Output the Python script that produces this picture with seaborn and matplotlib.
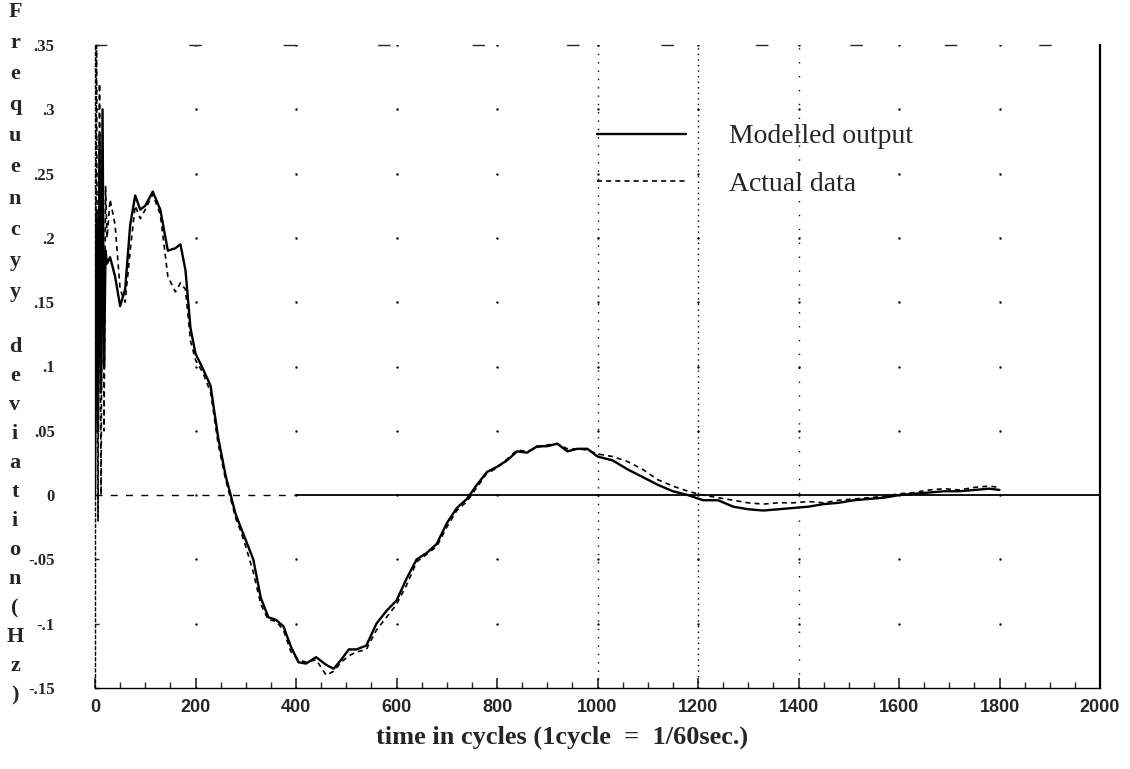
import numpy as np
import pandas as pd
import matplotlib
matplotlib.use("Agg")
import matplotlib.pyplot as plt
from matplotlib.ticker import MultipleLocator, FixedLocator, FixedFormatter
import seaborn as sns

# ---------------- data ----------------
time_cycles = [0, 3, 6, 9, 12, 15, 18, 21, 24, 30, 40, 50, 60, 70, 80, 90, 100, 115, 130, 145,
               160, 170, 180, 190, 200, 215, 230, 245, 260, 270, 280, 290, 300, 315, 330, 345,
               360, 375, 390, 405, 420, 440, 460, 475, 490, 505, 520, 540, 560, 580, 600, 620,
               640, 660, 680, 700, 720, 740, 760, 780, 800, 820, 840, 860, 880, 900, 920, 940,
               960, 980, 1000, 1030, 1060, 1090, 1120, 1150, 1180, 1210, 1240, 1270, 1300, 1330,
               1360, 1390, 1420, 1450, 1480, 1510, 1540, 1570, 1600, 1630, 1660, 1690, 1720,
               1750, 1780, 1800]

modelled_output = [0.0, 0.22, 0.05, 0.28, 0.08, 0.30, 0.10, 0.19, 0.18, 0.185, 0.17, 0.147, 0.16,
                   0.21, 0.233, 0.222, 0.225, 0.236, 0.222, 0.19, 0.192, 0.195, 0.175, 0.13, 0.11,
                   0.098, 0.085, 0.045, 0.015, 0.0, -0.015, -0.025, -0.035, -0.05, -0.08, -0.095,
                   -0.097, -0.102, -0.118, -0.13, -0.131, -0.126, -0.132, -0.135, -0.128, -0.12,
                   -0.12, -0.117, -0.1, -0.09, -0.082, -0.065, -0.05, -0.045, -0.038, -0.022,
                   -0.01, -0.003, 0.008, 0.018, 0.022, 0.027, 0.034, 0.033, 0.038, 0.038, 0.04,
                   0.034, 0.036, 0.036, 0.03, 0.027, 0.02, 0.014, 0.008, 0.003, 0.0, -0.004,
                   -0.004, -0.009, -0.011, -0.012, -0.011, -0.01, -0.009, -0.007, -0.006, -0.004,
                   -0.003, -0.002, 0.0, 0.001, 0.002, 0.003, 0.003, 0.004, 0.005, 0.004]

actual_data = [0.0, 0.35, -0.02, 0.32, 0.0, 0.27, 0.05, 0.24, 0.2, 0.23, 0.21, 0.16, 0.15,
               0.19, 0.225, 0.215, 0.222, 0.234, 0.218, 0.17, 0.158, 0.165, 0.16, 0.12, 0.105,
               0.095, 0.08, 0.04, 0.012, -0.003, -0.018, -0.028, -0.04, -0.06, -0.085, -0.097,
               -0.098, -0.105, -0.122, -0.128, -0.13, -0.128, -0.14, -0.137, -0.13, -0.125,
               -0.122, -0.12, -0.105, -0.095, -0.085, -0.07, -0.052, -0.046, -0.04, -0.025,
               -0.012, -0.005, 0.006, 0.017, 0.021, 0.028, 0.035, 0.034, 0.037, 0.039, 0.04,
               0.036, 0.036, 0.035, 0.032, 0.03, 0.026, 0.02, 0.012, 0.007, 0.003, 0.0,
               -0.002, -0.004, -0.006, -0.007, -0.006, -0.006, -0.005, -0.006, -0.004, -0.003,
               -0.002, -0.001, 0.001, 0.002, 0.004, 0.005, 0.004, 0.006, 0.007, 0.006]

x_ticks = [0, 200, 400, 600, 800, 1000, 1200, 1400, 1600, 1800, 2000]
y_ticks = [0.35, 0.3, 0.25, 0.2, 0.15, 0.1, 0.05, 0.0, -0.05, -0.1, -0.15]
y_tick_labels = [".35", ".3", ".25", ".2", ".15", ".1", ".05", "0", "-.05", "-.1", "-.15"]

df = pd.DataFrame({"time": time_cycles, "Modelled output": modelled_output,
                   "Actual data": actual_data})

# ---------------- plot ----------------
sns.set_style("white")
plt.rcParams['font.family'] = ['Liberation Serif', 'DejaVu Serif']

fig = plt.figure(figsize=(11.3, 7.69), dpi=100)
ax = fig.add_axes([95 / 1130, 1 - 688 / 769, 1005 / 1130, 643 / 769])

# sparse dotted grid at tick intersections
gx, gy = np.meshgrid(x_ticks[1:-1], y_ticks)
ax.scatter(gx.ravel(), gy.ravel(), s=3, color="black", zorder=1, linewidths=0)
ax.axvline(1000, color="black", lw=1.0, ls=(0, (1, 5)), zorder=1)
ax.axvline(1200, color="black", lw=1.0, ls=(0, (1, 3)), zorder=1)
ax.axvline(1400, color="black", lw=1.0, ls=(0, (1, 9)), zorder=1)
ax.axhline(0, xmin=0.0, xmax=0.2, color="black", lw=1.0, ls=(0, (5, 6)), zorder=2)
ax.axhline(0, xmin=0.2, xmax=1.0, color="black", lw=1.3, zorder=2)

sns.lineplot(data=df, x="time", y="Modelled output", ax=ax, color="black", lw=1.7,
             label="Modelled output", zorder=3)
sns.lineplot(data=df, x="time", y="Actual data", ax=ax, color="black", lw=1.2,
             ls=(0, (3, 2.5)), label="Actual data", zorder=3)

ax.set_xlim(0, 2000)
ax.set_ylim(-0.15, 0.35)
ax.xaxis.set_major_locator(FixedLocator(x_ticks))
ax.xaxis.set_minor_locator(MultipleLocator(50))
ax.yaxis.set_major_locator(FixedLocator(y_ticks))
ax.yaxis.set_major_formatter(FixedFormatter(y_tick_labels))

ax.tick_params(axis="x", which="major", direction="in", length=7, width=1.2, pad=8,
               bottom=True)
ax.tick_params(axis="x", which="minor", direction="in", length=4, width=1.0, bottom=True)
ax.tick_params(axis="y", which="major", direction="in", length=3, width=1.0, pad=29,
               left=True)
for lab in ax.get_xticklabels():
    lab.set_fontfamily("Liberation Sans")
    lab.set_fontweight("bold")
    lab.set_fontsize(13)
for lab in ax.get_yticklabels():
    lab.set_fontfamily("Liberation Serif")
    lab.set_fontweight("bold")
    lab.set_fontsize(12)

for side in ["left", "right", "bottom"]:
    ax.spines[side].set_visible(True)
    ax.spines[side].set_color("black")
ax.spines["left"].set_linewidth(1.0)
ax.spines["left"].set_linestyle((0, (2, 2)))
ax.spines["right"].set_linewidth(1.6)
ax.spines["bottom"].set_linewidth(1.0)
ax.spines["top"].set_linewidth(1.0)
ax.spines["top"].set_linestyle((0, (8, 60)))

ax.set_ylabel("")
ax.set_xlabel("time in cycles (1cycle  =  1/60sec.)", fontsize=19, fontweight="bold",
              fontfamily="Liberation Serif")
ax.xaxis.set_label_coords((562 - 95) / 1005, -0.058)

leg = ax.legend(loc="upper left", bbox_to_anchor=((597 - 95) / 1005, (688 - 124) / 643),
                frameon=False, borderpad=0, borderaxespad=0,
                handlelength=3.2, handletextpad=1.55, labelspacing=0.8,
                prop={"family": "Liberation Serif", "size": 20})

# stacked vertical y label
fig.text(15 / 1130, 1 - 2 / 769, "F\nr\ne\nq\nu\ne\nn\nc\ny\ny", ha="center", va="top",
         fontsize=16, fontweight="bold", linespacing=1.74, fontfamily="Liberation Serif")
fig.text(15 / 1130, 1 - 337 / 769, "d\ne\nv\ni\na\nt\ni\no\nn\n(\nH\nz\n)", ha="center",
         va="top", fontsize=16, fontweight="bold", linespacing=1.60,
         fontfamily="Liberation Serif")

fig.savefig("out.png", dpi=100, facecolor="white")
